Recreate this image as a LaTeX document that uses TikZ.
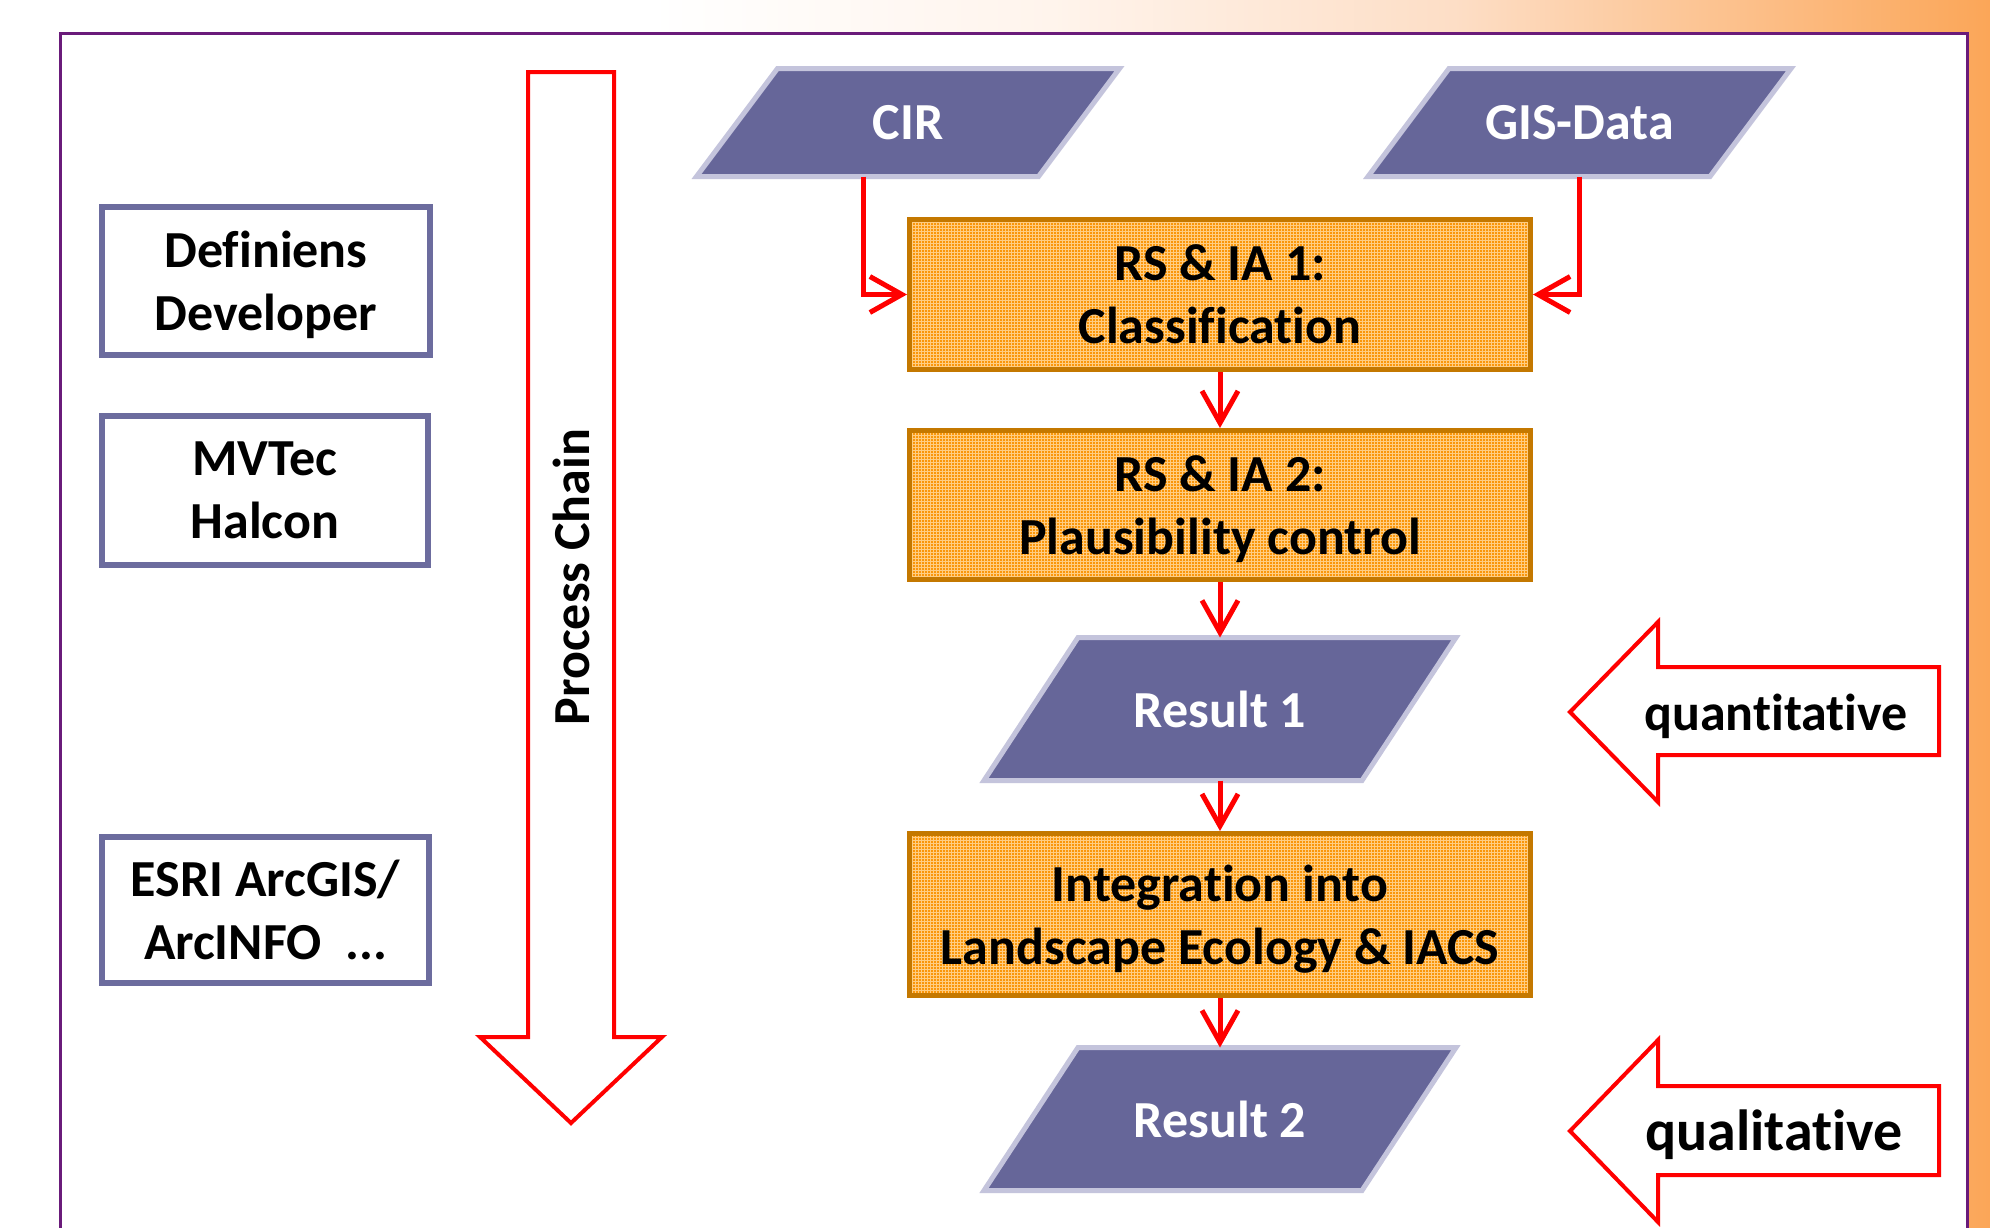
\documentclass[tikz,border=0pt]{standalone}
\usepackage{fontspec}
\setmainfont{Carlito}[Ligatures=NoCommon]
\usetikzlibrary{arrows.meta,patterns}
\definecolor{frameP}{RGB}{106,27,122}
\definecolor{bgOr}{RGB}{251,166,88}
\definecolor{bgPk}{RGB}{253,222,198}
\definecolor{bgPl}{RGB}{255,244,236}
\definecolor{paraF}{RGB}{102,102,153}
\definecolor{paraB}{RGB}{196,196,220}
\definecolor{boxF}{RGB}{250,150,10}
\definecolor{boxL}{RGB}{255,205,130}
\definecolor{boxB}{RGB}{196,120,0}
\definecolor{toolB}{RGB}{108,108,158}
\pgfdeclarehorizontalshading{topgrad}{100bp}{color(0bp)=(white); color(25bp)=(white); color(40bp)=(bgPl); color(55bp)=(bgPk); color(75bp)=(bgOr); color(100bp)=(bgOr)}
\pgfdeclarelayer{back}
\pgfdeclarelayer{mid}
\pgfsetlayers{back,mid,main}
\begin{document}
\begin{tikzpicture}[x=1pt,y=-1pt,
  lbl/.style={font=\bfseries\fontsize{52}{63}\selectfont, align=center, inner sep=0pt},
  toolbox/.style={lbl, draw=toolB, line width=6pt, rectangle},
  datatxt/.style={lbl, rectangle, outer sep=0pt, text=white},
  datashape/.style={fill=paraF, draw=paraB, line width=5pt, line join=miter},
  procbox/.style={lbl, rectangle, line width=5pt, preaction={fill=boxF}, pattern=grid, pattern color=boxL, draw=boxB, minimum width=621pt},
  conn/.style={red, line width=5pt, -{Straight Barb[length=32pt,width=36pt]}},
  blockarrow/.style={draw=red, line width=4pt, fill=white, line join=miter},
]
\path[use as bounding box] (0,0) rectangle (1990,1227);
\clip (0,0) rectangle (1990,1227);
\begin{pgfonlayer}{back}
\fill[white] (0,0) rectangle (1990,1227);
\shade[shading=topgrad] (650,0) rectangle (1990,1227);
\draw[frameP, line width=3pt, fill=white] (60,33) rectangle (1967,1260);
\end{pgfonlayer}

% tools
\node[toolbox, minimum width=328pt, minimum height=148pt] (dev) at (266,281) {Definiens\\\smash{Developer}};
\node[toolbox, minimum width=326pt, minimum height=149pt] (hal) at (265,490.5) {MVTec\\Halcon};
\node[toolbox, minimum width=327pt, minimum height=146pt] (esri) at (265.5,910) {ESRI ArcGIS/\\ArcINFO\ \ ...};

% process chain arrow
\draw[blockarrow] (528,72) -- (614,72) -- (614,1037) -- (662,1037) -- (571,1123) -- (480,1037) -- (528,1037) -- cycle;
\node[lbl, rotate=90] (chain) at (571,577) {Process Chain};

% data nodes (text + anchors), parallelograms drawn behind
\node[datatxt, minimum width=342pt, minimum height=108pt] (cir) at (908,122.5) {CIR};
\node[datatxt, minimum width=342pt, minimum height=108pt] (gis) at (1579.5,122.5) {GIS-Data};
\node[datatxt, minimum width=378pt, minimum height=143pt] (res1) at (1220,709) {Result 1};
\node[datatxt, minimum width=378pt, minimum height=143pt] (res2) at (1220,1119) {Result 2};
\begin{pgfonlayer}{mid}
\foreach \n/\o in {cir/40.5,gis/40.5,res1/47,res2/47}{
  \draw[datashape] ([xshift=-\o pt]\n.south west) -- ([xshift=-\o pt]\n.south east)
    -- ([xshift=\o pt]\n.north east) -- ([xshift=\o pt]\n.north west) -- cycle;
}
\end{pgfonlayer}

% process boxes
\node[procbox, minimum height=150pt] (rs1) at (1220,294.5) {RS \& IA 1:\\Classification};
\node[procbox, minimum height=149pt] (rs2) at (1220,505) {RS \& IA 2:\\\smash{Plausibility control}};
\node[procbox, minimum height=162pt] (integ) at (1220,914.5) {Integration into\\\smash{Landscape Ecology \& IACS}};

% connectors
\draw[conn] ([xshift=-45pt]cir.south) |- (rs1.west);
\draw[conn] (gis.south) |- (rs1.east);
\draw[conn] (rs1.south) -- (rs2.north);
\draw[conn] (rs2.south) -- (res1.north);
\draw[conn] (res1.south) -- (integ.north);
\draw[conn] (integ.south) -- (res2.north);

% quantitative / qualitative arrows
\draw[blockarrow] (1570,712) -- (1658,622) -- (1658,667) -- (1939,667) -- (1939,755) -- (1658,755) -- (1658,802) -- cycle;
\node[lbl] (quant) at (1776,716) {quantitative};
\draw[blockarrow] (1570,1131) -- (1658,1040) -- (1658,1086) -- (1939,1086) -- (1939,1175) -- (1658,1175) -- (1658,1222) -- cycle;
\node[lbl, font=\bfseries\fontsize{58}{70}\selectfont] (qual) at (1774,1135) {qualitative};
\end{tikzpicture}
\end{document}
